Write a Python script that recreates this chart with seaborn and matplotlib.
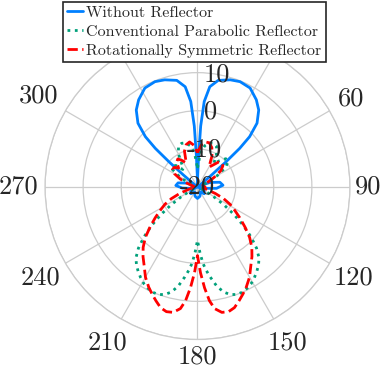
import numpy as np
import pandas as pd
import seaborn as sns
import matplotlib.pyplot as plt

sns.set_style("white")
plt.rcParams["font.family"] = ["cmr10", "DejaVu Serif"]
plt.rcParams["axes.unicode_minus"] = False

# angles in degrees (clockwise from top), gain in dB
blue_deg = [0, 1, 2, 3, 4.5, 7, 11, 17, 22, 28,
            34, 38.5, 43, 46, 47.5, 48.5, 49.5, 52, 60, 70,
            78, 86, 94, 100, 110, 120, 135, 150, 165, 180,
            195, 210, 225, 240, 250, 260, 266, 274, 282, 290,
            300, 308, 310.5, 311.5, 312.5, 314, 317, 321.5, 326, 332,
            338, 343, 349, 353, 355.5, 357, 358, 359, 360]
blue_db = [-20, -17, -12, -4, 2.5, 6.5, 8.5, 9.4, 9.8, 9.4,
           7.6, 5.8, 2.9, -1, -5, -10, -15, -19, -19.5, -16.5,
           -14, -13.3, -15, -18, -19.5, -18, -17.5, -18.5, -17.5, -17,
           -17.5, -18.5, -17.5, -18, -19.5, -18, -16, -14.3, -14.8, -17,
           -19.5, -19, -15, -10, -5, -1, 2.9, 5.8, 7.6, 9.4,
           9.8, 9.4, 8.5, 6.5, 2.5, -4, -12, -17, -20]

green_deg = [0, 5, 10, 15, 20, 25, 30, 35, 40, 45,
             50, 55, 60, 65, 70, 80, 90, 100, 110, 117,
             121, 124, 127, 130, 133, 136, 139, 142, 145, 148,
             151, 154, 157, 160, 163, 166, 169, 172, 174, 176,
             178, 180, 182, 184, 186, 188, 191, 194, 197, 200,
             203, 206, 209, 212, 215, 218, 221, 224, 227, 230,
             233, 236, 239, 243, 250, 260, 270, 280, 290, 295,
             300, 305, 310, 315, 320, 325, 330, 335, 340, 345,
             350, 355, 360]
green_db = [-15, -11, -9, -8, -7.8, -8.2, -10, -12.5, -11, -9.5,
            -9.5, -11, -14, -17, -19, -19, -18.5, -19.5, -19, -18,
            -15, -11.6, -8, -4.3, -0.8, 2.3, 4.6, 6, 7.1, 8.1,
            9, 9.6, 10, 10, 9.5, 8.4, 6.5, 3.8, 2, 0,
            -3, -6, -3, 0, 2, 3.8, 6.5, 8.4, 9.5, 10,
            10, 9.6, 9, 8.1, 7.1, 6, 4.6, 2.3, -0.8, -4.3,
            -8, -11.6, -15, -18, -19.5, -19.5, -18.5, -19, -19, -17,
            -14.5, -12, -11.5, -12, -14, -13, -10, -8.2, -7.8, -8,
            -9, -11, -15]

red_deg = [0, 5, 10, 15, 20, 25, 30, 35, 40, 45,
           50, 55, 60, 65, 70, 80, 90, 100, 105, 110,
           114, 118, 122, 126, 130, 134, 138, 142, 146, 150,
           154, 157, 160, 163, 166, 169, 172, 174, 176, 178,
           180, 182, 184, 186, 188, 191, 194, 197, 200, 203,
           206, 210, 214, 218, 222, 226, 230, 234, 238, 242,
           246, 250, 255, 260, 270, 280, 290, 295, 300, 305,
           310, 315, 320, 325, 330, 335, 340, 345, 350, 355,
           360]
red_db = [-11, -9, -8, -8, -9, -11, -14, -13, -11.5, -11,
          -11.3, -12.5, -15, -17, -18.5, -18.5, -18, -18.5, -17.5, -15,
          -12.5, -10.3, -8.5, -6.3, -3.8, -1, 1.3, 3.2, 5, 7.3,
          9.2, 10.5, 11.8, 13.1, 13.7, 13.5, 12.2, 10, 6.5, 2.5,
          -2, 2.5, 6.5, 10, 12.2, 13.5, 13.7, 13.1, 11.8, 10.5,
          9.2, 7.3, 5, 3.2, 1.3, -1, -3.8, -6.3, -8.5, -10.3,
          -12.5, -15, -17.5, -18.5, -18, -19, -17, -15, -13, -12,
          -12, -13, -11.5, -11, -12, -13, -10, -8.5, -8, -9,
          -11]

series_names = ["Without Reflector", "Conventional Parabolic Reflector",
                "Rotationally Symmetric Reflector"]
series_deg = [blue_deg, green_deg, red_deg]
series_db = [blue_db, green_db, red_db]
colors = ["#0080ff", "#00a07a", "#ff0000"]
styles = ["-", ":", "--"]
dash_patterns = [None, (1, 1.6), (4.5, 3)]

theta_ticks = list(range(0, 360, 30))
# 0, 30 and 330 sit under the legend in the original, so only these show
theta_labels = [60, 90, 120, 150, 180, 210, 240, 270, 300]
theta_label_r = [26.4, 24.8, 27.4, 27.2, 24.6, 27.2, 27.6, 27.0, 28.0]
r_ticks = [-20, -10, 0, 10, 20]
r_labels = [-20, -10, 0, 10]

fig = plt.figure(figsize=(3.82, 3.69), dpi=100)
ax = fig.add_axes([0.1178, 0.0799, 0.7984, 0.8266], projection="polar")
ax.set_theta_zero_location("N")
ax.set_theta_direction(-1)

for name, deg, vals, c, ls, dp in zip(series_names, series_deg, series_db,
                                      colors, styles, dash_patterns):
    df = pd.DataFrame({"theta": np.deg2rad(deg), "gain": vals})
    line_kw = dict(linestyle=ls, linewidth=2.0)
    if dp is not None:
        line_kw["dashes"] = dp
    sns.lineplot(data=df, x="theta", y="gain", ax=ax, color=c, sort=False,
                 label=name, **line_kw)

ax.set_ylim(-20, 20)
ax.set_yticks(r_ticks)
ax.set_yticklabels([])
ax.set_xticks(np.deg2rad(theta_ticks))
ax.set_xticklabels([])
ax.set_xlabel("")
ax.set_ylabel("")
ax.grid(True, color="#cccccc", linewidth=0.9)
ax.spines["polar"].set_color("#cccccc")
ax.spines["polar"].set_linewidth(0.9)

for t, rr in zip(theta_labels, theta_label_r):
    ax.text(np.deg2rad(t), rr, str(t), ha="center", va="center",
            fontsize=19, color="#262626", clip_on=False)

for r in r_labels:
    ax.text(np.deg2rad(10), r, str(r), ha="center", va="center",
            fontsize=19, color="#262626", zorder=4)

leg = ax.legend(loc="upper center", bbox_to_anchor=(0.509, 0.995),
                bbox_transform=fig.transFigure, fontsize=11.5, frameon=True,
                fancybox=False, edgecolor="#262626", framealpha=1,
                borderpad=0.25, handlelength=1.0, handletextpad=0.2,
                labelspacing=0.3, borderaxespad=0)
leg.get_frame().set_linewidth(1.2)
leg.set_zorder(10)

plt.savefig("out.png", dpi=100)
